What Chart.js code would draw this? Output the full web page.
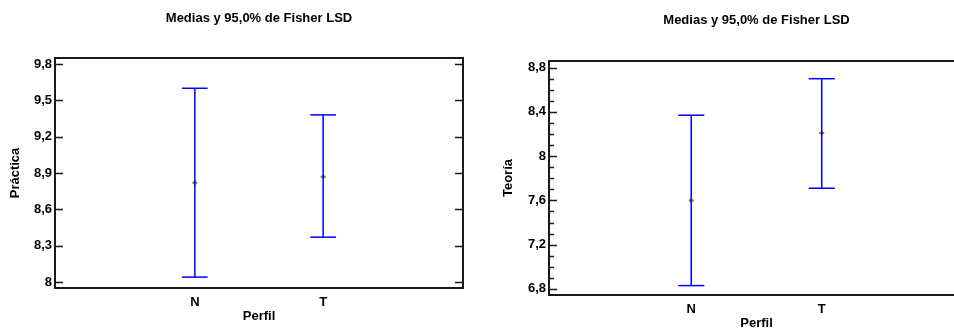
<!DOCTYPE html>
<html lang="es">
<head>
  <meta charset="UTF-8">
  <title>Medias y 95,0% de Fisher LSD</title>
  <script src="https://cdn.jsdelivr.net/npm/chart.js"></script>
  <style>
    body {
      margin: 0;
      background: #fff;
      width: 954px;
      height: 331px;
      overflow: hidden;
      position: relative;
    }
    canvas {
      position: absolute;
      top: 0;
    }
    #graficoPractica { left: 0; }
    #graficoTeoria { left: 477px; }
  </style>
</head>
<body>
  <canvas id="graficoPractica" width="477" height="331"></canvas>
  <canvas id="graficoTeoria" width="500" height="331"></canvas>

  <script>
    // niveles del factor
    const perfiles = ['N', 'T'];

    // Práctica: medias e intervalos LSD al 95%
    const practicaMedias = [8.82, 8.87];
    const practicaInf = [8.04, 8.37];
    const practicaSup = [9.60, 9.38];
    const practicaTicks = [8, 8.3, 8.6, 8.9, 9.2, 9.5, 9.8];

    // Teoría: medias e intervalos LSD al 95%
    const teoriaMedias = [7.60, 8.21];
    const teoriaInf = [6.83, 7.71];
    const teoriaSup = [8.37, 8.70];
    const teoriaTicks = [6.8, 7.2, 7.6, 8, 8.4, 8.8];

    Chart.defaults.font.family = "'Liberation Sans', Arial, sans-serif";
    Chart.defaults.font.weight = 'bold';
    Chart.defaults.color = '#000';

    const AZUL = '#0000ff';
    const OLIVA = '#808000';
    const CAP = 0.1; // media anchura del remate, en unidades del eje x
    const FUENTE = { size: 13, weight: 'bold' };

    function coma(v) {
      return String(Math.round(v * 10) / 10).replace('.', ',');
    }

    // marco del gráfico y marcas hacia dentro en el eje y
    const marcoPlugin = {
      id: 'marco',
      afterDatasetsDraw(chart, args, opts) {
        const { ctx, chartArea: a, scales } = chart;
        const y = scales.y;
        ctx.save();
        ctx.strokeStyle = '#1a1a1a';
        ctx.lineWidth = 1.5;
        ctx.beginPath();
        y.ticks.forEach(t => {
          const py = Math.round(y.getPixelForValue(t.value)) + 0.5;
          ctx.moveTo(a.left, py); ctx.lineTo(a.left + 8, py);
          ctx.moveTo(a.right - 8, py); ctx.lineTo(a.right, py);
        });
        if (opts.menor) {
          for (let v = y.min; v <= y.max; v += opts.menor) {
            const r = Math.round(v * 10) / 10;
            if (r < y.min || r > y.max) continue;
            if (y.ticks.some(t => Math.abs(t.value - r) < 1e-6)) continue;
            const py = Math.round(y.getPixelForValue(r)) + 0.5;
            ctx.moveTo(a.left, py); ctx.lineTo(a.left + 5, py);
            ctx.moveTo(a.right - 5, py); ctx.lineTo(a.right, py);
          }
        }
        ctx.stroke();
        ctx.lineWidth = 2;
        ctx.strokeRect(a.left, a.top, a.right - a.left, a.bottom - a.top);
        ctx.restore();
      }
    };

    function datasetsLSD(medias, inf, sup) {
      const ds = [];
      const linea = { showLine: true, borderColor: AZUL, borderWidth: 1.5, pointRadius: 0, fill: false };
      medias.forEach((m, i) => {
        const x = i + 1;
        ds.push({ ...linea, data: [{ x: x, y: inf[i] }, { x: x, y: sup[i] }] });
        ds.push({ ...linea, data: [{ x: x - CAP, y: sup[i] }, { x: x + CAP, y: sup[i] }] });
        ds.push({ ...linea, data: [{ x: x - CAP, y: inf[i] }, { x: x + CAP, y: inf[i] }] });
      });
      ds.push({
        data: medias.map((m, i) => ({ x: i + 1, y: m })),
        pointStyle: 'cross',
        pointRadius: 2.5,
        borderWidth: 2,
        borderColor: OLIVA,
        backgroundColor: OLIVA,
        showLine: false
      });
      return ds;
    }

    function crearGrafico(id, cfg) {
      return new Chart(document.getElementById(id), {
        type: 'scatter',
        data: { datasets: datasetsLSD(cfg.medias, cfg.inf, cfg.sup) },
        options: {
          responsive: false,
          animation: false,
          devicePixelRatio: 1,
          layout: { padding: { left: 0, right: cfg.derecha, top: 0, bottom: 0 } },
          plugins: {
            legend: { display: false },
            tooltip: { enabled: false },
            title: {
              display: true,
              text: 'Medias y 95,0% de Fisher LSD',
              fullSize: false,
              font: FUENTE,
              padding: { top: cfg.tituloArriba, bottom: cfg.tituloAbajo }
            },
            marco: { menor: cfg.menor }
          },
          scales: {
            x: {
              type: 'linear',
              min: -0.09,
              max: 3.09,
              grid: { display: false, drawTicks: false },
              border: { display: false },
              afterBuildTicks: s => { s.ticks = perfiles.map((p, i) => ({ value: i + 1 })); },
              afterFit: s => { s.height = cfg.altoX; },
              ticks: {
                padding: 7,
                font: FUENTE,
                callback: v => perfiles[v - 1]
              },
              title: {
                display: true,
                text: 'Perfil',
                font: FUENTE,
                padding: { top: 0, bottom: cfg.perfilAbajo }
              }
            },
            y: {
              min: cfg.min,
              max: cfg.max,
              grid: { display: false, drawTicks: false },
              border: { display: false },
              afterBuildTicks: s => { s.ticks = cfg.ticks.map(v => ({ value: v })); },
              afterFit: s => { s.width = cfg.anchoY; },
              ticks: {
                padding: 3,
                font: FUENTE,
                callback: v => coma(v)
              },
              title: {
                display: true,
                text: cfg.etiqueta,
                font: FUENTE,
                padding: { top: cfg.etiquetaX, bottom: 0 }
              }
            }
          }
        },
        plugins: [marcoPlugin]
      });
    }

    crearGrafico('graficoPractica', {
      medias: practicaMedias, inf: practicaInf, sup: practicaSup, ticks: practicaTicks,
      min: 7.95, max: 9.85, etiqueta: 'Práctica', menor: 0,
      anchoY: 55, altoX: 43, derecha: 14,
      tituloArriba: 11, tituloAbajo: 31.4, perfilAbajo: 7, etiquetaX: 8
    });

    crearGrafico('graficoTeoria', {
      medias: teoriaMedias, inf: teoriaInf, sup: teoriaSup, ticks: teoriaTicks,
      min: 6.745, max: 8.86, etiqueta: 'Teoría', menor: 0.1,
      anchoY: 72, altoX: 36, derecha: 13,
      tituloArriba: 12.5, tituloAbajo: 32.9, perfilAbajo: 0, etiquetaX: 24
    });
  </script>
</body>
</html>
